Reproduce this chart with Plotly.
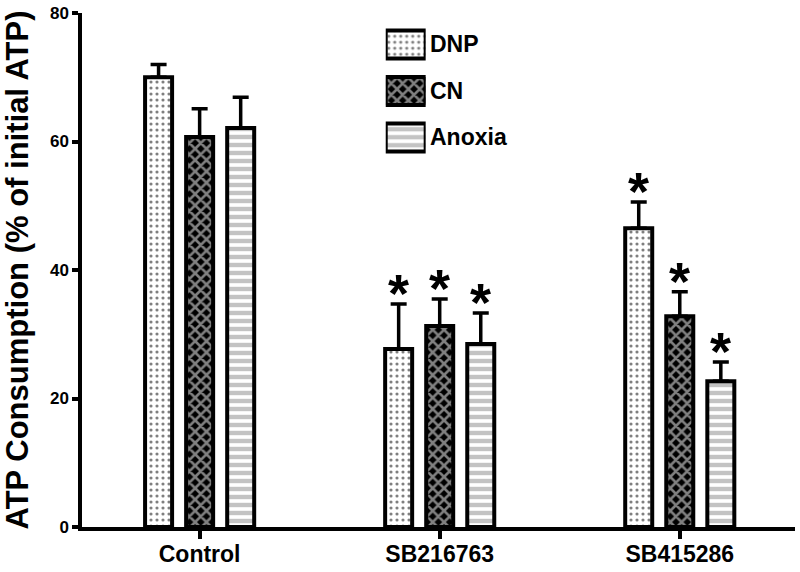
import plotly.graph_objects as go

groups = ["Control", "SB216763", "SB415286"]
series = ["DNP", "CN", "Anoxia"]
means = {
    "DNP": [70.0, 27.7, 46.5],
    "CN": [60.7, 31.3, 32.8],
    "Anoxia": [62.1, 28.5, 22.7],
}
errors = {
    "DNP": [2.0, 7.0, 4.1],
    "CN": [4.4, 4.2, 3.8],
    "Anoxia": [4.8, 4.8, 3.0],
}
significant = {
    "DNP": [False, True, True],
    "CN": [False, True, True],
    "Anoxia": [False, True, True],
}
y_ticks = [0, 20, 40, 60, 80]

patterns = {
    "DNP": dict(shape=".", fgcolor="black", bgcolor="white", size=6, solidity=0.22),
    "CN": dict(shape="x", fgcolor="white", bgcolor="black", size=8, solidity=0.55),
    "Anoxia": dict(shape="-", fgcolor="#888888", bgcolor="white", size=8, solidity=0.55),
}

FONT = "Liberation Sans, Arial"
offset = 0.171
width = 0.1125

fig = go.Figure()
annotations = []
for j, s in enumerate(series):
    xs = [i + (j - 1) * offset for i in range(len(groups))]
    fig.add_trace(go.Bar(
        x=xs, y=means[s], width=width, name=s,
        marker=dict(color="white", line=dict(color="black", width=4), pattern=patterns[s]),
        error_y=dict(type="data", symmetric=False, array=errors[s],
                     arrayminus=[0] * len(groups), color="black", thickness=3.5, width=8),
        showlegend=False,
    ))
    for x, m, e, sig in zip(xs, means[s], errors[s], significant[s]):
        if sig:
            annotations.append(dict(x=x, y=m + e, xref="x", yref="y", text="<b>*</b>",
                                    showarrow=False, yanchor="bottom", yshift=-21,
                                    font=dict(size=54, color="black", family=FONT)))

# legend swatches
fig.add_trace(go.Bar(
    x=[1, 1, 1], y=series, orientation="h", xaxis="x2", yaxis="y2", width=0.6,
    marker=dict(color="white", line=dict(color="black", width=4),
                pattern=dict(shape=[patterns[s]["shape"] for s in series],
                             fgcolor=[patterns[s]["fgcolor"] for s in series],
                             bgcolor=[patterns[s]["bgcolor"] for s in series],
                             size=[patterns[s]["size"] for s in series],
                             solidity=[patterns[s]["solidity"] for s in series])),
    showlegend=False, hoverinfo="skip",
))
for s in series:
    annotations.append(dict(x=0.485, y=s, xref="paper", yref="y2", text="<b>%s</b>" % s,
                            showarrow=False, xanchor="left", yanchor="middle",
                            font=dict(size=23, color="black", family=FONT)))

fig.update_layout(
    width=800, height=572,
    margin=dict(l=82, r=5, t=13, b=45),
    plot_bgcolor="white", paper_bgcolor="white",
    xaxis=dict(range=[-0.49, 2.48], tickvals=list(range(len(groups))), ticktext=["<b>%s</b>" % g for g in groups],
               showline=True, linecolor="black", linewidth=3.5, ticks="outside", ticklen=8,
               tickwidth=3.5, tickcolor="black", showgrid=False, zeroline=False, automargin=False,
               ticklabelstandoff=-4,
               tickfont=dict(size=23, color="black", family=FONT)),
    yaxis=dict(range=[0, 80], tickvals=y_ticks, ticktext=["<b>%d</b>" % t for t in y_ticks],
               showline=True, linecolor="black", linewidth=3.5, ticks="outside", ticklen=6,
               tickwidth=3.5, tickcolor="black", showgrid=False, zeroline=False, automargin=False,
               tickfont=dict(size=17, color="black", family=FONT),
               title=dict(text="<b>ATP Consumption (% of initial ATP)</b>", standoff=20,
                          font=dict(size=31, color="black", family=FONT))),
    xaxis2=dict(domain=[0.426, 0.482], range=[0, 1], visible=False, anchor="y2"),
    yaxis2=dict(domain=[0.7126, 0.984], visible=False, anchor="x2", autorange="reversed",
                categoryorder="array", categoryarray=series),
    annotations=annotations,
    bargap=0.4,
)

fig.write_html("out.html", config={"displayModeBar": False},
               post_script="document.body.style.margin='0';document.body.style.overflow='hidden';")
